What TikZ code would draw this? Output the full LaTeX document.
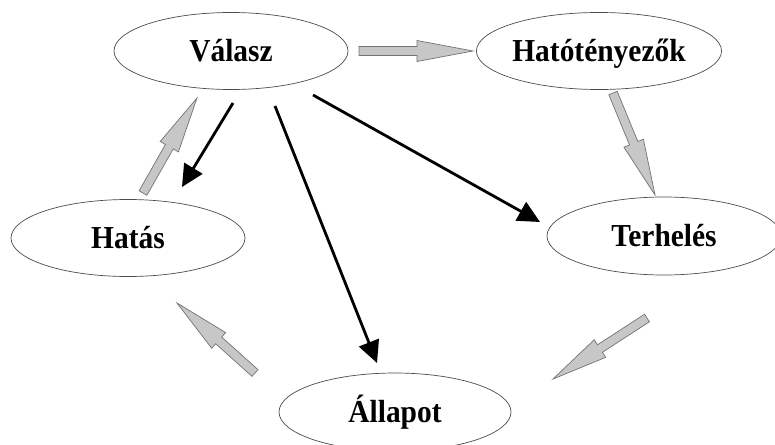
\documentclass[tikz,border=0pt]{standalone}
\usepackage{fontspec}
\setmainfont{Liberation Serif}[FakeStretch=0.92]
\usetikzlibrary{shapes.geometric,arrows.meta,calc}

\tikzset{
  state/.style={ellipse, draw=black!70, line width=0.7pt, inner sep=0pt,
                minimum width=234pt, minimum height=77pt,
                text height=21pt, text depth=0pt,
                font=\fontsize{32}{34}\selectfont\bfseries},
  causal/.style={line width=2.8pt, -{Triangle[length=22pt,width=21pt]}},
  gblock/.style={fill=black!22, draw=black!55, line width=0.7pt, line join=miter},
}

% gray block arrow from tail #1 to tip #2
\newcommand\blockarrow[2]{%
  \coordinate (neck) at ($(#2)!56pt!(#1)$);
  \draw[gblock] ($(#1)!4.5pt!90:(#2)$) -- ($(neck)!4.5pt!90:(#2)$)
    -- ($(neck)!10.5pt!90:(#2)$) -- (#2)
    -- ($(neck)!10.5pt!-90:(#2)$) -- ($(neck)!4.5pt!-90:(#2)$)
    -- ($(#1)!4.5pt!-90:(#2)$) -- cycle;
}

\begin{document}
\begin{tikzpicture}[x=1pt,y=-1pt]
\useasboundingbox[fill=white] (0,0) rectangle (775,444);

% states
\node[state] (valasz) at (231,51) {Válasz};
\node[state] (hato) at (599,51) {Hatótényezők};
\node[state] (hatas) at (128,238) {Hatás};
\node[state, minimum height=78pt] (terh) at (664,236) {Terhelés};
\node[state, minimum width=232pt, minimum height=78pt] (allapot) at (395,412) {Állapot};

% end points of the arrows
\coordinate (b1s) at (233,103); \coordinate (b1e) at (182,187);
\coordinate (b2s) at (275,106); \coordinate (b2e) at (377,363);
\coordinate (b3s) at (313,95);  \coordinate (b3e) at (540,222);

\coordinate (g1s) at (359,51);  \coordinate (g1e) at (473,51);
\coordinate (g2s) at (613,93);  \coordinate (g2e) at (655,195);
\coordinate (g3s) at (647,318); \coordinate (g3e) at (553,379);
\coordinate (g4s) at (255,373); \coordinate (g4e) at (177,303);
\coordinate (g5s) at (143,193); \coordinate (g5e) at (197,98);

% the cycle of gray block arrows
\blockarrow{g1s}{g1e}
\blockarrow{g2s}{g2e}
\blockarrow{g3s}{g3e}
\blockarrow{g4s}{g4e}
\blockarrow{g5s}{g5e}

% responses
\draw[causal] (b1s) -- (b1e);
\draw[causal] (b2s) -- (b2e);
\draw[causal] (b3s) -- (b3e);
\end{tikzpicture}
\end{document}
